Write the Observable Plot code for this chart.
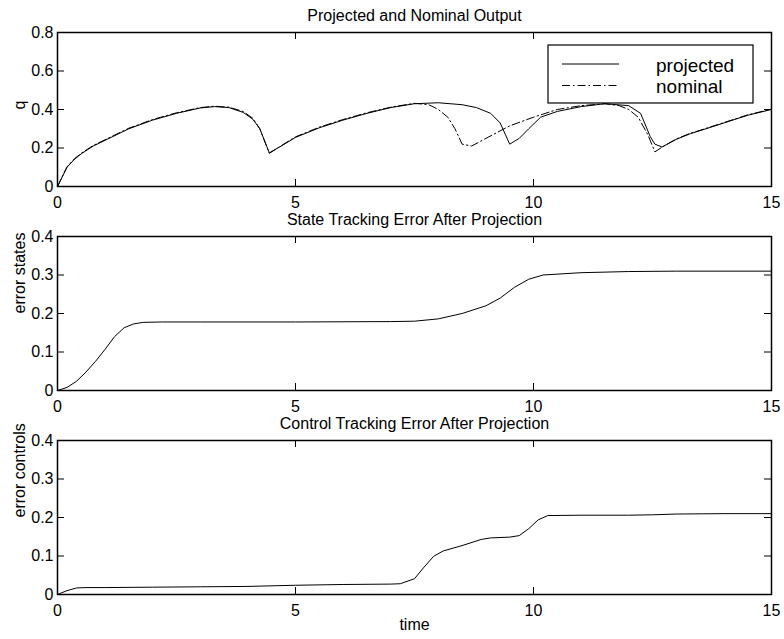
<!DOCTYPE html>
<html>
<head>
<meta charset="utf-8">
<script src="https://cdn.jsdelivr.net/npm/d3@7"></script>
<script src="https://cdn.jsdelivr.net/npm/@observablehq/plot@0.6"></script>
<style>
  body { margin: 0; background: white; }
  #chart { position: relative; width: 784px; height: 639px; }
  #chart svg { position: absolute; left: 0; }
</style>
</head>
<body>
<div id="chart"></div>
<script>
// ---- data ----
const xTicks = [0, 5, 10, 15];
const qTicks = [0, 0.2, 0.4, 0.6, 0.8];
const errTicks = [0, 0.1, 0.2, 0.3, 0.4];

const tProjected = [0, 0.1, 0.2, 0.35, 0.5, 0.75, 1, 1.5, 2, 2.5, 3, 3.3, 3.6, 3.9, 4.1, 4.25, 4.45, 4.7, 5, 5.5, 6, 6.5, 7, 7.5, 8, 8.5, 8.8, 9.1, 9.3, 9.5, 9.7, 9.9, 10.15, 10.5, 11, 11.5, 12, 12.25, 12.45, 12.55, 12.7, 13, 13.3, 13.5, 14, 14.5, 15];
const qProjected = [0, 0.05, 0.1, 0.14, 0.17, 0.21, 0.24, 0.3, 0.345, 0.38, 0.408, 0.415, 0.41, 0.385, 0.35, 0.3, 0.175, 0.21, 0.255, 0.305, 0.345, 0.38, 0.41, 0.43, 0.435, 0.425, 0.41, 0.38, 0.33, 0.22, 0.25, 0.3, 0.36, 0.39, 0.415, 0.43, 0.42, 0.38, 0.26, 0.22, 0.205, 0.245, 0.275, 0.29, 0.33, 0.37, 0.4];

const tNominal = [0, 0.1, 0.2, 0.35, 0.5, 0.75, 1, 1.5, 2, 2.5, 3, 3.3, 3.6, 3.9, 4.1, 4.25, 4.45, 4.7, 5, 5.5, 6, 6.5, 7, 7.5, 7.8, 8.0, 8.2, 8.35, 8.5, 8.7, 9.0, 9.5, 10, 10.5, 11, 11.5, 11.8, 12.0, 12.2, 12.4, 12.55, 12.75, 13, 13.3, 13.5, 14, 14.5, 15];
const qNominal = [0, 0.052, 0.102, 0.143, 0.173, 0.213, 0.243, 0.303, 0.348, 0.383, 0.41, 0.417, 0.412, 0.39, 0.355, 0.3, 0.172, 0.212, 0.258, 0.308, 0.348, 0.383, 0.412, 0.432, 0.425, 0.4, 0.36, 0.3, 0.22, 0.21, 0.25, 0.315, 0.36, 0.4, 0.42, 0.43, 0.42, 0.4, 0.36, 0.27, 0.18, 0.212, 0.247, 0.277, 0.292, 0.332, 0.372, 0.402];

const tState = [0, 0.2, 0.4, 0.6, 0.8, 1.0, 1.2, 1.4, 1.6, 1.8, 2.2, 3, 5, 7, 7.5, 8, 8.5, 9, 9.3, 9.6, 9.9, 10.2, 10.6, 11, 12, 13, 15];
const eState = [0, 0.008, 0.024, 0.048, 0.076, 0.107, 0.14, 0.163, 0.173, 0.177, 0.178, 0.178, 0.178, 0.179, 0.18, 0.186, 0.2, 0.22, 0.24, 0.268, 0.289, 0.3, 0.303, 0.306, 0.309, 0.31, 0.31];

const tControl = [0, 0.2, 0.4, 0.6, 1, 2, 3, 4, 5, 6, 7, 7.2, 7.5, 7.7, 7.9, 8.1, 8.5, 8.9, 9.1, 9.5, 9.7, 9.9, 10.1, 10.3, 11, 12, 12.5, 13, 14, 15];
const eControl = [0, 0.01, 0.017, 0.018, 0.018, 0.019, 0.02, 0.021, 0.024, 0.026, 0.027, 0.028, 0.041, 0.071, 0.099, 0.113, 0.127, 0.143, 0.147, 0.149, 0.153, 0.171, 0.194, 0.205, 0.206, 0.206, 0.207, 0.209, 0.21, 0.21];

const titles = ["Projected and Nominal Output", "State Tracking Error After Projection", "Control Tracking Error After Projection"];
const yLabels = ["q", "error states", "error controls"];
const xLabel = "time";
const legendLabels = ["projected", "nominal"];

// ---- drawing ----
const FONT = "'Liberation Sans', Arial, Helvetica, sans-serif";
const frameH = 154;
const tick = 7;

function zip(t, v) { return t.map((d, i) => ({t: d, v: v[i]})); }
const fmt = d => String(d);

function panel({top, yDomain, yTicks, title, ylabel, lines, xlab}) {
  const marginTop = 32, marginBottom = xlab ? 45 : 46;
  const marks = [
    ...lines.map(l => Plot.line(l.data, {x: "t", y: "v", stroke: "black", strokeWidth: 1, strokeDasharray: l.dash || null})),
    // inward ticks on all four sides
    Plot.tickX(xTicks, {x: d => d, stroke: "black", strokeWidth: 1, insetTop: frameH - tick}),
    Plot.tickX(xTicks, {x: d => d, stroke: "black", strokeWidth: 1, insetBottom: frameH - tick}),
    Plot.tickY(yTicks, {y: d => d, stroke: "black", strokeWidth: 1, insetRight: 714 - tick}),
    Plot.tickY(yTicks, {y: d => d, stroke: "black", strokeWidth: 1, insetLeft: 714 - tick}),
    Plot.axisX({ticks: xTicks, tickSize: 0, tickPadding: 10, tickFormat: fmt, label: null}),
    Plot.axisY({ticks: yTicks, tickSize: 0, tickPadding: 4, tickFormat: fmt, label: null}),
    Plot.frame({stroke: "black", strokeWidth: 1.5}),
    Plot.text([title], {text: d => d, frameAnchor: "top", dy: -23, fontSize: 16, fill: "black"}),
    Plot.text([ylabel], {text: d => d, frameAnchor: "left", rotate: -90, dx: -38, fontSize: 16, fill: "black"})
  ];
  if (xlab) marks.push(Plot.text([xlab], {text: d => d, frameAnchor: "bottom", dy: 35, fontSize: 16, fill: "black"}));
  const svg = Plot.plot({
    width: 784,
    height: marginTop + frameH + marginBottom,
    marginTop, marginBottom,
    marginLeft: 57, marginRight: 13,
    x: {domain: [0, 15]},
    y: {domain: yDomain},
    style: {fontFamily: FONT, fontSize: "16px", background: "transparent", overflow: "visible", color: "black"},
    marks
  });
  svg.style.top = top + "px";
  document.getElementById("chart").appendChild(svg);
  return svg;
}

const svg1 = panel({
  top: 0, yDomain: [0, 0.8], yTicks: qTicks, title: titles[0], ylabel: yLabels[0],
  lines: [
    {data: zip(tNominal, qNominal), dash: "8,3,1.5,3"},
    {data: zip(tProjected, qProjected)}
  ]
});
panel({top: 204, yDomain: [0, 0.4], yTicks: errTicks, title: titles[1], ylabel: yLabels[1],
  lines: [{data: zip(tState, eState)}]});
panel({top: 408, yDomain: [0, 0.4], yTicks: errTicks, title: titles[2], ylabel: yLabels[2],
  lines: [{data: zip(tControl, eControl)}], xlab: xLabel});

// legend box (top panel)
const g = d3.select(svg1).append("g").attr("font-family", FONT).attr("font-size", 19).attr("text-anchor", "start");
g.append("rect").attr("x", 548).attr("y", 45).attr("width", 205).attr("height", 58)
  .attr("fill", "white").attr("stroke", "black").attr("stroke-width", 1.2);
const styles = [null, "8,3,1.5,3"];
const ly = [64, 85.5];
legendLabels.forEach((lab, i) => {
  g.append("line").attr("x1", 562).attr("x2", 619).attr("y1", ly[i]).attr("y2", ly[i])
    .attr("stroke", "black").attr("stroke-width", 1).attr("stroke-dasharray", styles[i]);
  g.append("text").attr("x", 656).attr("y", ly[i] + 7.5).attr("text-anchor", "start").attr("fill", "black").text(lab);
});
</script>
</body>
</html>
